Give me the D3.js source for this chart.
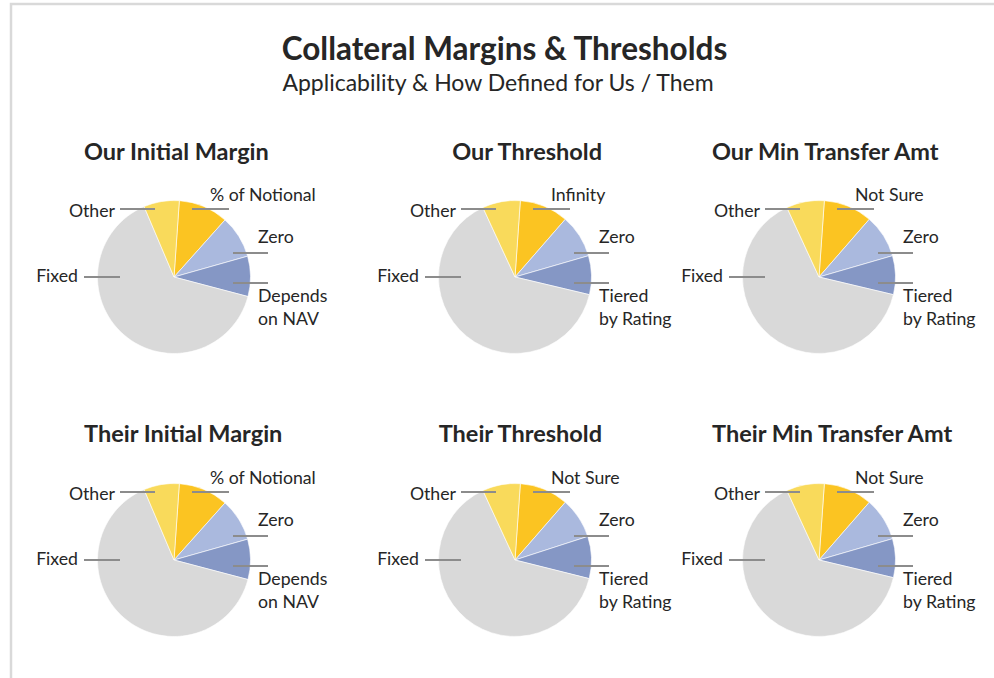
<!DOCTYPE html>
<html>
<head>
<meta charset="utf-8">
<script src="https://cdn.jsdelivr.net/npm/d3@7"></script>
<style>
  html, body { margin: 0; padding: 0; background: #fff; }
  svg { display: block; }
  text { font-family: Lato, "Open Sans", sans-serif; fill: #262626; }
</style>
</head>
<body>
<svg id="chart" width="994" height="678"></svg>
<script>
// ---- data ----
const chartTitle = "Collateral Margins & Thresholds";
const chartSubtitle = "Applicability & How Defined for Us / Them";
const panelTitles = ["Our Initial Margin", "Our Threshold", "Our Min Transfer Amt",
                     "Their Initial Margin", "Their Threshold", "Their Min Transfer Amt"];
const catsOurIM = ["% of Notional", "Zero", "Depends on NAV", "Fixed", "Other"];
const catsOurTh = ["Infinity", "Zero", "Tiered by Rating", "Fixed", "Other"];
const catsOurMTA = ["Not Sure", "Zero", "Tiered by Rating", "Fixed", "Other"];
const catsTheirIM = ["% of Notional", "Zero", "Depends on NAV", "Fixed", "Other"];
const catsTheirTh = ["Not Sure", "Zero", "Tiered by Rating", "Fixed", "Other"];
const catsTheirMTA = ["Not Sure", "Zero", "Tiered by Rating", "Fixed", "Other"];
const valsOurIM = [10.5, 9, 8.5, 64.5, 7.5];
const valsOurTh = [10.3, 9.1, 8.2, 64.4, 8.0];
const valsOurMTA = [10.3, 9.1, 8.2, 64.4, 8.0];
const valsTheirIM = [10.5, 9, 8.5, 64.5, 7.5];
const valsTheirTh = [10.3, 8.6, 8.9, 64.2, 8.0];
const valsTheirMTA = [10.3, 9.1, 8.2, 64.4, 8.0];

// ---- layout / style ----
const W = 994, H = 678;
const sliceColors = ["#FBC422", "#AAB9DE", "#8597C5", "#D9D9D9", "#F9DA5B"];
const panelCats = [catsOurIM, catsOurTh, catsOurMTA, catsTheirIM, catsTheirTh, catsTheirMTA];
const panelVals = [valsOurIM, valsOurTh, valsOurMTA, valsTheirIM, valsTheirTh, valsTheirMTA];
const colCx = [174, 515, 819];
const rowCy = [277, 560];
const R = 76.5;
const startDeg = 4;
// title placement per column: [x, anchor]
const titlePos = [[84, "start"], [602, "end"], [712, "start"]];
// label layout per slice index: text anchor, text dx, baseline dy, leader x1,x2,y
const labelLayout = [
  {anchor: "start", tx: 36, ty: -76, lx1: 18, lx2: 55, ly: -68},
  {anchor: "start", tx: 84, ty: -34, lx1: 59, lx2: 94, ly: -24},
  {anchor: "start", tx: 84, ty: 25, lx1: 59, lx2: 94, ly: 6},
  {anchor: "end", tx: -96, ty: 5, lx1: -90, lx2: -54, ly: 0},
  {anchor: "end", tx: -59, ty: -60, lx1: -54, lx2: -19, ly: -68}
];

const svg = d3.select("#chart");

// frame
svg.append("path")
  .attr("d", `M11,${H + 5} V4 H${W + 5}`)
  .attr("fill", "none").attr("stroke", "#D9D9D9").attr("stroke-width", 2.5);

svg.append("text").attr("x", 504.5).attr("y", 59.5).attr("text-anchor", "middle")
  .style("font-size", "31.5px").style("font-weight", "bold").text(chartTitle);
svg.append("text").attr("x", 498).attr("y", 90.5).attr("text-anchor", "middle")
  .style("font-size", "23px").text(chartSubtitle);

const pie = d3.pie().sort(null).value(d => d.v)
  .startAngle(startDeg * Math.PI / 180)
  .endAngle(startDeg * Math.PI / 180 + 2 * Math.PI);
const arc = d3.arc().innerRadius(0).outerRadius(R);

panelTitles.forEach((t, i) => {
  const col = i % 3, row = Math.floor(i / 3);
  const cx = colCx[col], cy = rowCy[row];
  const g = svg.append("g");
  g.append("text")
    .attr("x", titlePos[col][0]).attr("y", cy - 117 - row * 1.5)
    .attr("text-anchor", titlePos[col][1])
    .style("font-size", "23.5px").style("font-weight", "bold").text(t);

  const data = panelCats[i].map((c, k) => ({c, v: panelVals[i][k], k}));
  const pg = g.append("g").attr("transform", `translate(${cx},${cy})`);
  pg.selectAll("path").data(pie(data)).join("path")
    .attr("d", arc)
    .attr("fill", d => sliceColors[d.data.k])
    .attr("stroke", "#fff").attr("stroke-width", 0.6);

  data.forEach(d => {
    const L = labelLayout[d.k];
    pg.append("line")
      .attr("x1", L.lx1).attr("x2", L.lx2).attr("y1", L.ly).attr("y2", L.ly)
      .attr("stroke", "#8C8C8C").attr("stroke-width", 2);
    let lines = [d.c];
    if (d.k === 2) {
      if (d.c === "Depends on NAV") lines = ["Depends", "on NAV"];
      else lines = ["Tiered", "by Rating"];
    }
    const txt = pg.append("text").attr("text-anchor", L.anchor)
      .style("font-size", "17.7px");
    lines.forEach((ln, j) => {
      txt.append("tspan").attr("x", L.tx).attr("y", L.ty + j * 22.6).text(ln);
    });
  });
});
</script>
</body>
</html>
